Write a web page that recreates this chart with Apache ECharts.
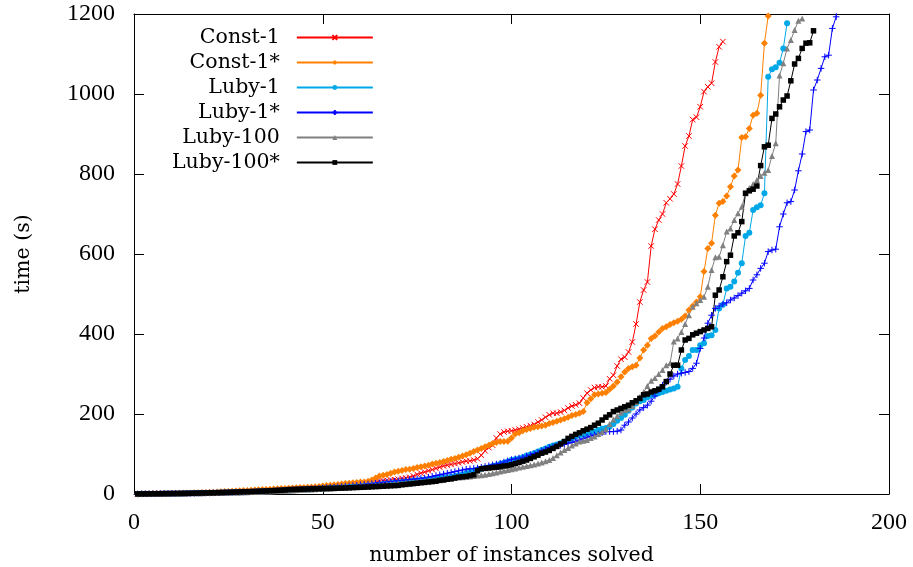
<!DOCTYPE html>
<html>
<head>
<meta charset="utf-8">
<script src="https://cdn.jsdelivr.net/npm/echarts@6/dist/echarts.min.js"></script>
<style>
  html, body { margin: 0; padding: 0; background: #fff; }
  #main { width: 913px; height: 567px; }
</style>
</head>
<body>
<div id="main"></div>
<script>
// sorted solve times (s), one value per solved instance (x = 1..N)
var const1 = [0.5,0.6,0.7,0.8,0.9,1,1,1.1,1.2,1.3,
  1.4,1.5,1.6,1.7,1.8,2,2.1,2.2,2.4,2.6,
  2.8,3,3.2,3.4,3.6,3.9,4.2,4.5,4.8,5.1,
  5.5,5.9,6.3,6.7,7.1,7.6,8.1,8.6,9.1,9.6,
  10,10.5,11,11.5,12,12.6,13.2,13.8,14.4,15,
  15.7,16.4,17.1,17.8,18.5,19.3,20.1,21,22,23,
  25,26,28,30,32,33,34,35,36,37,
  39,40,42,45,49,52,55,58,61,64,
  67,70,72,74,76,78,80,82,83,85,
  88,97,108,116,122,140,150,155,157,158,
  160,162,165,168,171,174,180,185,192,198,
  202,202,205,209,215,220,223,227,240,252,
  260,266,268,268,270,288,297,320,337,342,
  355,380,425,480,510,530,620,662,685,700,
  728,738,750,775,820,870,895,936,942,968,
  1006,1018,1027,1080,1118,1131];

var const1s = [0.3,0.5,0.6,0.8,1,1.1,1.2,1.4,1.5,1.7,
  1.9,2.1,2.3,2.5,2.7,3,3.3,3.6,3.9,4.2,
  4.5,5,5.5,6,6.5,7,7.5,8,8.5,9,
  9.5,10,10.5,11,11.5,12,12.5,13,13.5,14,
  14.5,15,15.5,16,16.5,17,17.5,18,19,20,
  21,22,23,24,25,26,27,28,29,30,
  30,32,35,40,45,47,49,52,55,57,
  59,61,62,64,66,68,70,72,75,77,
  79,81,84,87,89,92,95,98,102,106,
  110,114,118,122,126,129,131,131,132,140,
  150,153,158,161,164,167,168,170,172,176,
  179,182,185,188,192,196,199,202,206,228,
  238,248,250,252,254,262,270,280,293,305,
  314,318,322,340,360,372,389,395,405,414,
  418,424,428,432,437,445,460,470,480,493,
  556,614,627,697,727,731,745,768,795,810,
  891,893,914,947,952,997,1127,1195,1320];

var luby1 = [0.3,0.4,0.5,0.6,0.7,0.8,0.9,1,1.1,1.2,
  1.3,1.4,1.5,1.6,1.8,2,2.2,2.4,2.6,2.8,
  3,3.2,3.4,3.6,3.8,4,4.3,4.6,4.9,5.2,
  5.5,5.8,6.1,6.4,6.7,7,7.4,7.8,8.2,8.6,
  9,9.5,10,10.5,11,11.5,12,12.5,13,13.5,
  14,14.6,15.2,15.8,16.4,17,17.6,18.2,18.8,19.5,
  20,21,22,23,24,25,26,27,28,29,
  30,31,32,33,34,35,36,37,38,39,
  40,41,42,43,45,47,49,52,55,58,
  61,63,65,67,70,72,75,78,81,85,
  87,89,92,96,99,102,106,110,114,118,
  121,124,127,131,135,139,143,146,148,152,
  155,156,160,163,165,168,175,183,190,198,
  208,216,226,232,235,242,246,249,252,255,
  258,261,264,268,314,335,345,360,360,372,
  377,395,397,410,464,473,514,518,531,553,
  577,645,653,710,717,722,752,1043,1062,1067,
  1078,1114,1177];

var luby1s = [0.2,0.3,0.4,0.5,0.6,0.7,0.8,0.9,1,1.1,
  1.2,1.3,1.4,1.5,1.6,1.8,2,2.2,2.4,2.6,
  2.8,3,3.2,3.4,3.7,4,4.3,4.6,4.9,5.2,
  5.5,5.9,6.3,6.7,7.1,7.5,8,8.5,9,9.5,
  10,10.5,11,11.5,12,12.6,13.2,13.8,14.4,15,
  15.7,16.4,17.1,17.8,18.5,19.3,20.1,21,22,23,
  24,25,26,27,28,29,30,31,32,33,
  34,35,36,37,38,39,40,42,44,46,
  48,50,52,54,56,58,60,62,63,64,
  65,67,69,71,73,75,77,80,83,86,
  88,90,92,95,98,101,104,108,112,116,
  118,120,122,124,127,129,132,135,138,142,
  145,148,150,153,156,156,156,157,160,172,
  180,190,200,210,216,222,232,245,260,272,
  280,287,295,300,302,304,306,314,327,364,
  390,427,447,464,470,475,478,485,490,496,
  502,508,514,535,548,564,577,606,610,612,
  668,700,728,731,760,808,850,906,910,1010,
  1035,1064,1093,1097,1164,1193,1290];

var luby100 = [0.2,0.3,0.4,0.5,0.6,0.7,0.8,0.9,1,1.1,
  1.2,1.3,1.4,1.5,1.6,1.7,1.8,2,2.2,2.4,
  2.6,2.8,3,3.2,3.4,3.6,3.8,4,4.3,4.6,
  4.9,5.2,5.5,5.8,6.1,6.5,6.9,7.3,7.7,8.1,
  8.5,9,9.5,10,10.5,11,11.5,12,12.5,13,
  13.5,14,14.5,15,15.5,16,16.7,17.4,18.1,18.8,
  19.5,20.2,21,21.8,22.6,23.4,24.2,25,25.8,26.6,
  27,28,29,29.5,30,31,32,33,34,35,
  36,37,38,39,40,41,42,43,44,45,
  46,47,48,50,52,54,56,58,60,62,
  64,66,68,70,72,74,76,79,82,85,
  90,97,104,110,115,121,126,131,133,135,
  140,144,150,155,162,175,186,195,204,210,
  212,220,230,243,255,270,283,290,300,310,
  322,327,381,389,405,425,447,468,477,485,
  493,518,560,592,593,622,656,664,685,702,
  718,752,765,775,785,795,803,810,845,877,
  1046,1077,1114,1135,1160,1183,1189];

var luby100s = [0.2,0.3,0.4,0.5,0.6,0.7,0.8,0.9,1,1.1,
  1.2,1.3,1.4,1.6,1.8,2,2.2,2.4,2.6,2.8,
  3,3.3,3.6,3.9,4.2,4.5,4.8,5.1,5.4,5.7,
  6,6.4,6.8,7.2,7.6,8,8.5,9,9.5,10,
  11,11.3,11.6,11.9,12.2,12.5,12.8,13,13.3,13.6,
  13.8,14,14.2,14.5,14.8,15.1,15.5,15.9,16.3,16.7,
  17,17.5,18,18.5,19,19.5,20,20.5,21,21.5,
  23,24,25,26,27,28,29,30,31,32,
  34,35,37,38,40,42,43,44,46,48,
  58,63,64,65,66,67,68,70,71,73,
  76,79,82,85,89,93,97,102,105,109,
  114,119,125,131,139,144,149,153,158,162,
  166,172,177,185,192,198,206,210,214,218,
  222,228,233,239,248,250,255,258,262,268,
  281,300,322,322,360,385,389,398,402,406,
  410,414,418,497,510,543,581,597,645,653,
  681,752,758,762,770,821,868,872,939,950,
  968,985,995,1033,1075,1089,1114,1127,1128,1158];

var seriesNames = ['Const-1', 'Const-1*', 'Luby-1', 'Luby-1*', 'Luby-100', 'Luby-100*'];
var seriesData = [const1, const1s, luby1, luby1s, luby100, luby100s];
var colors = ['#ff0000', '#ff8000', '#00a8e8', '#0000ff', '#808080', '#000000'];
var symbols = ['path://M0,0L10,10M10,0L0,10', 'diamond', 'circle', 'path://M5,0L5,10M0,5L10,5', 'triangle', 'rect'];
var symbolSizes = [5.5, 7, 6, 6.5, 6, 5.5];

var xTicks = [0, 200, 50];
var yTicks = [0, 1200, 200];

var numFont = 'Liberation Serif';
var textFont = 'DejaVu Serif';

var myChart = echarts.init(document.getElementById('main'));

var series = seriesData.map(function (arr, k) {
  var path = symbols[k].indexOf('path://') === 0;
  return {
    name: seriesNames[k],
    type: 'line',
    data: arr.map(function (v, i) { return [i + 1, v]; }),
    color: colors[k],
    symbol: symbols[k],
    symbolSize: symbolSizes[k],
    showAllSymbol: true,
    clip: true,
    lineStyle: { width: 1, color: colors[k] },
    itemStyle: {
      color: colors[k],
      borderColor: colors[k],
      borderWidth: path ? 1 : 0
    },
    emphasis: { disabled: true },
    animation: false
  };
});

function valueAxis(pos, range, labels, extra) {
  var a = {
    type: 'value',
    position: pos,
    min: range[0],
    max: range[1],
    interval: range[2],
    axisLine: { show: true, onZero: false, lineStyle: { color: '#000', width: 1 } },
    axisTick: { show: true, inside: true, length: 10, lineStyle: { color: '#000', width: 1 } },
    splitLine: { show: false },
    axisLabel: labels ? {
      show: true, color: '#000', fontFamily: numFont, fontSize: 24,
      margin: pos === 'left' ? 19 : 17,
      formatter: function (v) { return String(v); }
    } : { show: false }
  };
  for (var k in extra) a[k] = extra[k];
  return a;
}

var options = {
  backgroundColor: '#fff',
  animation: false,
  grid: { left: 134, right: 24, top: 14, bottom: 73, show: false, outerBoundsMode: 'none', containLabel: false },
  legend: {
    orient: 'vertical',
    left: 172,
    top: 27,
    padding: 0,
    align: 'right',
    itemWidth: 76,
    itemHeight: 6,
    itemGap: 4,
    selectedMode: false,
    textStyle: { fontFamily: textFont, fontSize: 20.5, color: '#000', lineHeight: 20, padding: [0, 12, 0, 0] },
    data: seriesNames
  },
  xAxis: [
    valueAxis('bottom', xTicks, true, {
      name: 'number of instances solved', nameLocation: 'middle', nameGap: 51,
      nameTextStyle: { fontFamily: textFont, fontSize: 20.5, color: '#000' }
    }),
    valueAxis('top', xTicks, false, {})
  ],
  yAxis: [
    valueAxis('left', yTicks, true, {
      name: 'time (s)', nameLocation: 'middle', nameGap: 100, nameRotate: 90,
      nameTextStyle: { fontFamily: textFont, fontSize: 20.5, color: '#000' }
    }),
    valueAxis('right', yTicks, false, {})
  ],
  series: series
};

myChart.setOption(options);
</script>
</body>
</html>
